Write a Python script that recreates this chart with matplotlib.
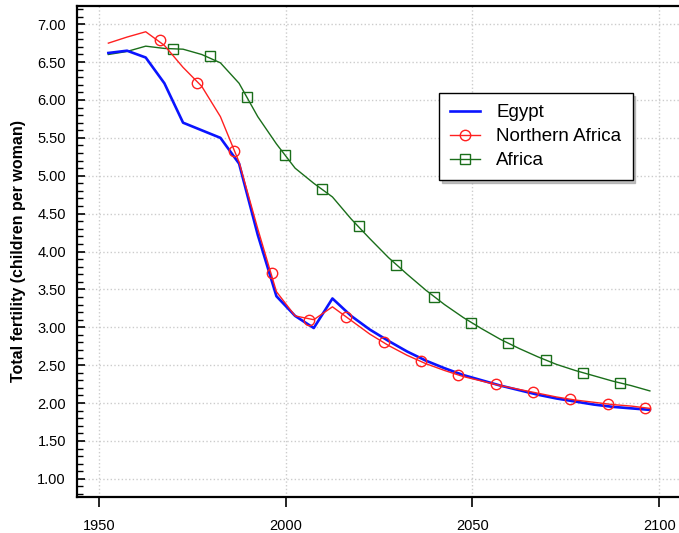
import numpy as np
import matplotlib
matplotlib.use('Agg')
import matplotlib.pyplot as plt
from matplotlib.lines import Line2D
from matplotlib.ticker import MultipleLocator, FormatStrFormatter

plt.rcParams['font.family'] = ['Liberation Sans', 'DejaVu Sans']

years = np.arange(1952.5, 2100, 5)

egypt = [6.62, 6.65, 6.56, 6.22, 5.70, 5.60, 5.50, 5.16, 4.22, 3.41,
         3.15, 2.99, 3.38, 3.15, 2.97, 2.82, 2.68, 2.56, 2.46, 2.37,
         2.30, 2.23, 2.17, 2.11, 2.06, 2.02, 1.98, 1.95, 1.93, 1.91]
north_africa = [6.75, 6.83, 6.90, 6.72, 6.43, 6.18, 5.78, 5.18, 4.30, 3.47,
                3.15, 3.10, 3.27, 3.09, 2.91, 2.76, 2.63, 2.52, 2.43, 2.35,
                2.29, 2.23, 2.18, 2.13, 2.08, 2.04, 2.01, 1.98, 1.96, 1.93]
africa = [6.60, 6.64, 6.71, 6.68, 6.67, 6.60, 6.49, 6.22, 5.78, 5.42,
          5.10, 4.90, 4.72, 4.43, 4.17, 3.92, 3.70, 3.49, 3.30, 3.13,
          2.98, 2.84, 2.72, 2.61, 2.51, 2.43, 2.36, 2.29, 2.23, 2.16]

# marker positions as drawn on the lines
na_mark_years = [1966.2, 1976.2, 1986.2, 1996.2, 2006.2, 2016.2, 2026.2,
                 2036.2, 2046.2, 2056.2, 2066.2, 2076.2, 2086.2, 2096.2]
na_mark_vals = [6.79, 6.23, 5.32, 3.72, 3.10, 3.13, 2.80,
                2.55, 2.37, 2.25, 2.14, 2.05, 1.99, 1.94]
af_mark_years = [1969.7, 1979.7, 1989.7, 1999.7, 2009.6, 2019.6, 2029.6,
                 2039.6, 2049.6, 2059.6, 2069.6, 2079.6, 2089.6]
af_mark_vals = [6.67, 6.58, 6.04, 5.27, 4.83, 4.33, 3.82,
                3.40, 3.06, 2.79, 2.57, 2.40, 2.26]

fig = plt.figure(figsize=(6.79, 5.33), dpi=100)
ax = fig.add_axes([77 / 679, 1 - 497 / 533, 1 - 77 / 679, (497 - 6) / 533])

ax.plot(years, africa, color='#1a6e1a', lw=1.0, zorder=3)
ax.plot(af_mark_years, af_mark_vals, ls='none', marker='s', ms=7,
        mfc='none', mec='#1a6e1a', mew=1.0, zorder=4)
ax.plot(years, north_africa, color='#ff2020', lw=1.0, zorder=4)
ax.plot(na_mark_years, na_mark_vals, ls='none', marker='o', ms=7.5,
        mfc='none', mec='#ff2020', mew=1.0, zorder=5)
ax.plot(years, egypt, color='#0a14ff', lw=1.9, zorder=3.5)

ax.set_xlim(1944.1, 2105.3)
ax.set_ylim(0.76, 7.24)
ax.xaxis.set_major_locator(MultipleLocator(50))
ax.yaxis.set_major_locator(MultipleLocator(0.5))
ax.yaxis.set_minor_locator(MultipleLocator(0.1))
ax.yaxis.set_major_formatter(FormatStrFormatter('%.2f'))

ax.grid(True, which='major', color='#cccccc', ls=':', lw=1.0)
ax.tick_params(axis='x', which='major', direction='out', length=7, width=1.2,
               labelsize=10.5, pad=9)
ax.tick_params(axis='y', which='major', direction='in', length=6, width=1.2,
               labelsize=10.5, pad=8)
ax.tick_params(axis='y', which='minor', direction='in', length=4, width=1.0)

for side in ['left', 'bottom', 'top']:
    ax.spines[side].set_linewidth(1.6)
ax.spines['right'].set_visible(False)

ax.set_ylabel('Total fertility (children per woman)', fontsize=11.5,
              fontweight='bold', labelpad=8)

handles = [
    Line2D([], [], color='#0a14ff', lw=1.9),
    Line2D([], [], color='#ff2020', lw=1.0, marker='o', ms=7.5, mfc='none'),
    Line2D([], [], color='#1a6e1a', lw=1.0, marker='s', ms=7, mfc='none'),
]
leg = ax.legend(handles, ['Egypt', 'Northern Africa', 'Africa'],
                loc='upper left', bbox_to_anchor=(439 / 679, 1 - 93 / 533),
                bbox_transform=fig.transFigure, borderaxespad=0,
                fontsize=13.5, fancybox=False,
                edgecolor='black', framealpha=1, borderpad=0.6,
                handlelength=1.6, handletextpad=0.85, labelspacing=0.36,
                shadow={'color': '0.6', 'alpha': 0.6})
leg.get_frame().set_linewidth(1.0)

fig.savefig('out.png', dpi=100)
